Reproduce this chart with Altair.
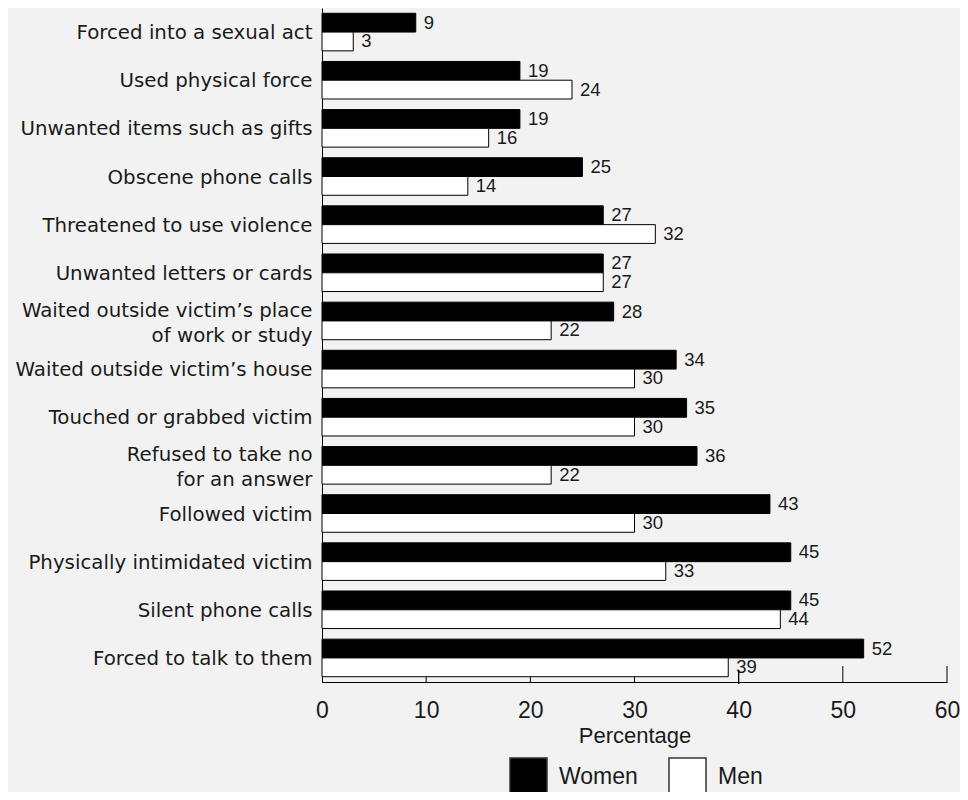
import altair as alt
import pandas as pd

categories = [
    "Forced into a sexual act",
    "Used physical force",
    "Unwanted items such as gifts",
    "Obscene phone calls",
    "Threatened to use violence",
    "Unwanted letters or cards",
    "Waited outside victim’s place|of work or study",
    "Waited outside victim’s house",
    "Touched or grabbed victim",
    "Refused to take no|for an answer",
    "Followed victim",
    "Physically intimidated victim",
    "Silent phone calls",
    "Forced to talk to them",
]
women = [9, 19, 19, 25, 27, 27, 28, 34, 35, 36, 43, 45, 45, 52]
men = [3, 24, 16, 14, 32, 27, 22, 30, 30, 22, 30, 33, 44, 39]
groups = ["Women", "Men"]
tick_values = [0, 10, 20, 30, 40, 50, 60]
short_ticks = [10, 20, 30]
mid_ticks = [40]
long_ticks = [50, 60]

rows = []
for c, w, m in zip(categories, women, men):
    rows.append({"category": c, "group": "Women", "value": w})
    rows.append({"category": c, "group": "Men", "value": m})
df = pd.DataFrame(rows)

W, H = 625, 674
LABEL_FONT = "DejaVu Sans"
SANS = "Liberation Sans"

y_enc = alt.Y(
    "category:N",
    sort=categories,
    scale=alt.Scale(paddingInner=0.22, paddingOuter=0.11),
    axis=alt.Axis(
        title=None,
        ticks=False,
        domainColor="black",
        labelFont=LABEL_FONT,
        labelFontSize=19.8,
        labelColor="#1a1a1a",
        labelPadding=10,
        labelLimit=0,
        labelLineHeight=25,
        labelExpr="split(datum.label, '|')",
        labelOffset={
            "condition": {"test": "indexof(datum.label, '|') >= 0", "value": -10},
            "value": 1,
        },
    ),
)
x_enc = alt.X(
    "value:Q",
    scale=alt.Scale(domain=[0, 60], nice=False),
    axis=alt.Axis(
        title="Percentage",
        values=tick_values,
        ticks=False,
        grid=False,
        domainColor="black",
        labelFont=SANS,
        labelFontSize=23,
        labelColor="#1a1a1a",
        labelPadding=17,
        labelFlush=False,
        titleFont=SANS,
        titleFontSize=22,
        titleFontWeight="normal",
        titleColor="#1a1a1a",
        titlePadding=3,
    ),
)
yoff = alt.YOffset("group:N", sort=groups, scale=alt.Scale(paddingInner=0, paddingOuter=0))

bars = alt.Chart(df).mark_bar(stroke="black", strokeWidth=1).encode(
    x=x_enc,
    y=y_enc,
    yOffset=yoff,
    fill=alt.Fill(
        "group:N",
        sort=groups,
        scale=alt.Scale(domain=groups, range=["black", "white"]),
        legend=alt.Legend(
            title=None,
            orient="none",
            legendX=187,
            legendY=749,
            padding=0,
            direction="horizontal",
            symbolType="square",
            symbolSize=1369,
            symbolStrokeColor="#333333",
            symbolStrokeWidth=1.5,
            labelFont=SANS,
            labelFontSize=23,
            labelColor="#1a1a1a",
            labelOffset=11,
            columnPadding=28,
        ),
    ),
)

labels = alt.Chart(df).mark_text(
    align="left", baseline="middle", dx=8, dy=0, font=SANS, fontSize=18.5, color="#1a1a1a"
).encode(
    x="value:Q",
    y=alt.Y("category:N", sort=categories),
    yOffset=alt.YOffset("group:N", sort=groups),
    text="value:Q",
)

ticks_s = alt.Chart(pd.DataFrame({"t": short_ticks})).mark_rule(color="black", strokeWidth=1).encode(
    x="t:Q", y=alt.value(H - 5), y2=alt.value(H)
)
ticks_m = alt.Chart(pd.DataFrame({"t": mid_ticks})).mark_rule(color="black", strokeWidth=1.3).encode(
    x="t:Q", y=alt.value(H - 12), y2=alt.value(H + 2)
)
ticks_l = alt.Chart(pd.DataFrame({"t": long_ticks})).mark_rule(color="black", strokeWidth=1).encode(
    x="t:Q", y=alt.value(H - 16), y2=alt.value(H)
)

chart = (
    alt.layer(bars, labels, ticks_s, ticks_m, ticks_l)
    .properties(
        width=W,
        height=H,
        background="#f2f2f2",
        autosize=alt.AutoSizeParams(type="none"),
        padding={"left": 314, "top": 0, "right": 13, "bottom": 110},
    )
    .configure_view(stroke=None)
)

chart.save("out.html", embed_options={"renderer": "svg", "actions": False})
